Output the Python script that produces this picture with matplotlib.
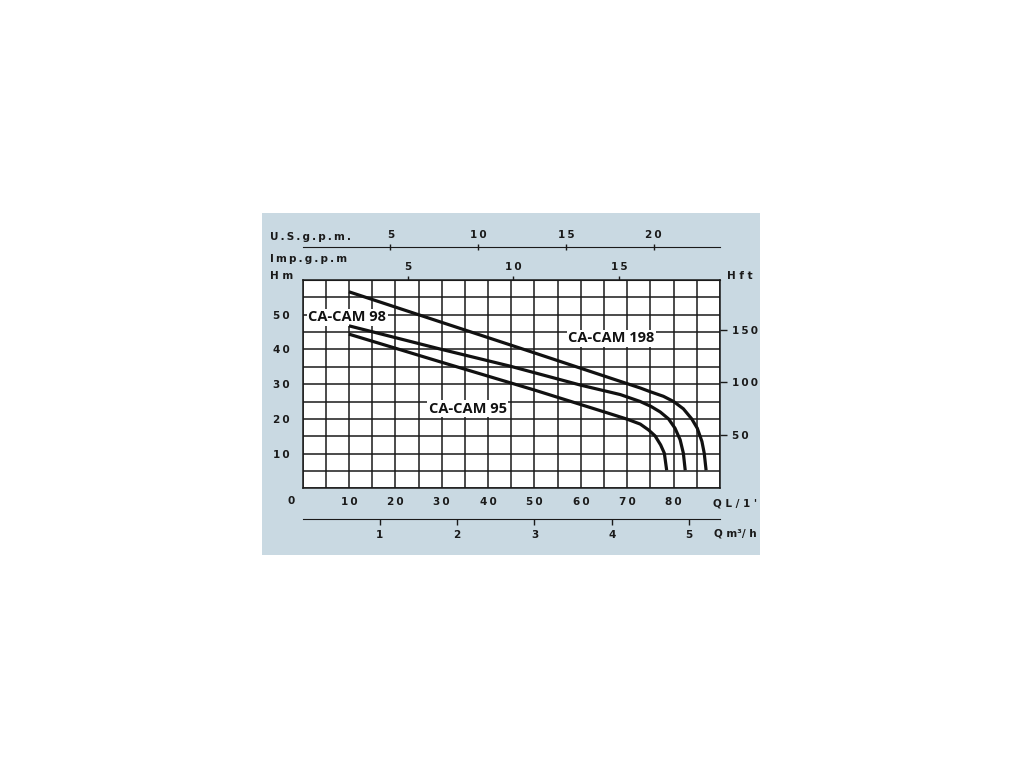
import matplotlib.pyplot as plt
from matplotlib.patches import Rectangle

# curves: flow in L/min, head in m
q_198 = [10, 30, 50, 68.5, 72.8, 75.0, 77.8, 80.0, 82.1, 83.9, 85.1, 86.1, 86.6, 87.0]
h_198 = [56.6, 47.8, 39.0, 30.8, 28.9, 27.8, 26.5, 25.0, 22.9, 20.0, 17.3, 13.5, 10.1, 5.2]

q_98 = [10, 30, 44.7, 60, 68.5, 72.8, 75.1, 77.1, 78.9, 80.3, 81.4, 82.1, 82.5]
h_98 = [46.8, 40.0, 35.2, 29.7, 27.0, 25.0, 23.6, 22.0, 20.0, 17.3, 14.0, 10.1, 5.2]

q_95 = [10, 30, 50, 66.0, 70.0, 72.8, 74.6, 76.0, 77.2, 78.0, 78.5]
h_95 = [44.4, 36.3, 28.3, 21.6, 19.9, 18.5, 16.8, 15.1, 12.5, 10.1, 5.2]

labels = ["CA-CAM 98", "CA-CAM 198", "CA-CAM 95"]
label_pos = [(9.6, 49.2), (66.6, 43.2), (35.6, 22.9)]

ql_ticks = [10, 20, 30, 40, 50, 60, 70, 80]
hm_ticks = [10, 20, 30, 40, 50]
hft_ticks = [50, 100, 150]
imp_ticks = [5, 10, 15]
us_ticks = [5, 10, 15, 20]
m3h_ticks = [1, 2, 3, 4, 5]

W, H = 1024, 768
def px(x, y):
    return x / W, 1 - y / H

def sp(v):
    # spaced-out digits like the original print
    return "\u2009".join(str(v))

lab_font = dict(family="DejaVu Sans", weight="bold", size=7.5, color="#1a1a1a")
ink = "#1a1a1a"

fig = plt.figure(figsize=(10.24, 7.68), dpi=100)
fig.patches.append(Rectangle(px(262, 555), 498 / W, 342 / H, transform=fig.transFigure,
                             facecolor="#c9d9e2", edgecolor="none", zorder=-10))

x0, x1 = 302.6, 720.0
y_top, y_bot = 280.0, 488.3
ax = fig.add_axes([x0 / W, 1 - y_bot / H, (x1 - x0) / W, (y_bot - y_top) / H])
ax.set_facecolor("white")
ax.set_xlim(0, 90)
ax.set_ylim(0, 60)

ax.set_xticks(range(0, 91, 5))
ax.set_xticklabels([sp(v) if v in ql_ticks else "" for v in range(0, 91, 5)], **lab_font)
ax.set_yticks(range(0, 61, 5))
ax.set_yticklabels([sp(v) if v in hm_ticks else "" for v in range(0, 61, 5)], **lab_font)
ax.tick_params(axis="x", length=0, pad=6.5)
ax.tick_params(axis="y", length=0, pad=9)
ax.grid(True, color=ink, lw=1.1)
ax.set_axisbelow(True)
for s in ax.spines.values():
    s.set_color(ink)
    s.set_linewidth(1.1)

for q, h in [(q_198, h_198), (q_98, h_98), (q_95, h_95)]:
    ax.plot(q, h, color="#111111", lw=2.3, solid_joinstyle="round", solid_capstyle="butt", zorder=3)

for t, (x, y) in zip(labels, label_pos):
    ax.text(x, y, t, ha="center", va="center", family="Open Sans", weight="bold",
            size=10.5, color="#111111", zorder=2.5,
            bbox=dict(facecolor="white", edgecolor="none", pad=1.0))

# right axis in feet
ax2 = ax.twinx()
ax2.set_ylim(0, 60 * 3.2808)
ax2.set_yticks(hft_ticks)
ax2.set_yticklabels([sp(v) for v in hft_ticks], **lab_font)
ax2.tick_params(axis="y", length=5, width=1.0, color=ink, pad=4)
for s in ax2.spines.values():
    s.set_visible(False)

# top axis in imperial gpm
ax3 = ax.secondary_xaxis("top", functions=(lambda q: q / 4.546, lambda g: g * 4.546))
ax3.set_xticks(imp_ticks)
ax3.set_xticklabels([sp(v) for v in imp_ticks], **lab_font)
ax3.tick_params(length=3, width=1.0, color=ink, pad=3)
ax3.spines["top"].set_color(ink)

# US gpm scale line
y_us = 247.3
ax4 = fig.add_axes([x0 / W, 1 - y_us / H, (x1 - x0) / W, 0.0001])
ax4.set_xlim(0, 90)
ax4.set_xticks([v * 3.785 for v in us_ticks])
ax4.set_xticklabels([sp(v) for v in us_ticks], **lab_font)
ax4.set_yticks([])
ax4.tick_params(axis="x", top=True, labeltop=True, bottom=False, labelbottom=False,
                direction="inout", length=5, width=1.0, color=ink, pad=3)
for k in ["left", "right", "bottom"]:
    ax4.spines[k].set_visible(False)
ax4.spines["top"].set_color(ink)
ax4.patch.set_visible(False)

# m3/h scale line
y_m3 = 519.3
ax5 = fig.add_axes([x0 / W, 1 - y_m3 / H, (x1 - x0) / W, 0.0001])
ax5.set_xlim(0, 90)
ax5.set_xticks([v * 1000 / 60 for v in m3h_ticks])
ax5.set_xticklabels([str(v) for v in m3h_ticks], **lab_font)
ax5.set_yticks([])
ax5.tick_params(axis="x", direction="out", length=4, width=1.0, color=ink, pad=4)
for k in ["left", "right", "top"]:
    ax5.spines[k].set_visible(False)
ax5.spines["bottom"].set_color(ink)
ax5.patch.set_visible(False)

# axis titles
fig.text(*px(270, 237), "U\u2009.\u2009S\u2009.\u2009g\u2009.\u2009p\u2009.\u2009m\u2009.", ha="left", va="center", **lab_font)
fig.text(*px(270, 259), "I\u2009m\u2009p\u2009.\u2009g\u2009.\u2009p\u2009.\u2009m", ha="left", va="center", **lab_font)
fig.text(*px(270, 276), "H m", ha="left", va="center", **lab_font)
fig.text(*px(727, 276), "H f t", ha="left", va="center", **lab_font)
fig.text(*px(291, 501), "0", ha="center", va="center", **lab_font)
fig.text(*px(713, 503), "Q L / 1 '", ha="left", va="center", **lab_font)
fig.text(*px(714, 533), "Q m\u00b3/ h", ha="left", va="center", **lab_font)

fig.savefig("out.png", dpi=100)
